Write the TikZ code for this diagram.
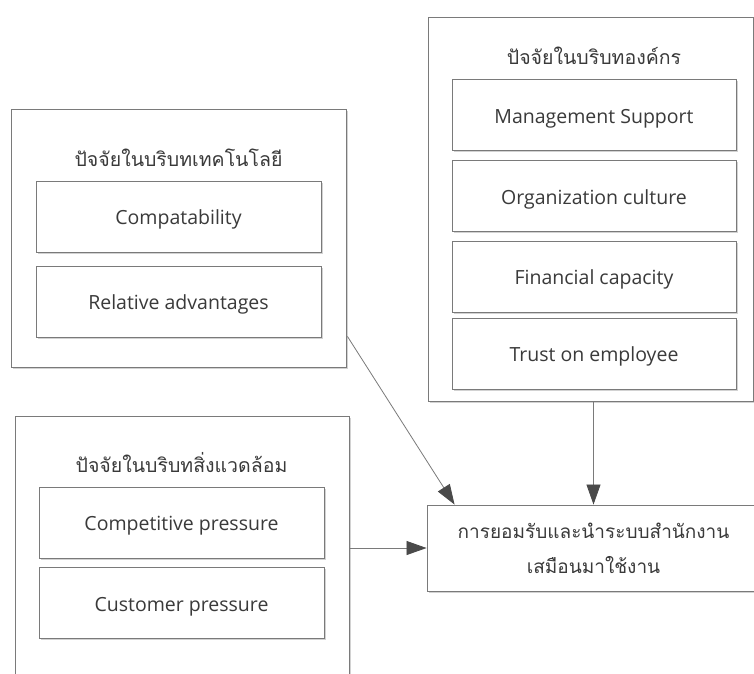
\documentclass[tikz,border=0pt]{standalone}
\usepackage{fontspec}
\setmainfont{Open Sans}
\newfontfamily\thai[Script=Thai]{Loma}
\usetikzlibrary{arrows.meta,shadows,calc}
\definecolor{edge}{HTML}{7A7A7A}
\definecolor{txt}{HTML}{3A3A3A}
\definecolor{arr}{HTML}{4A4A4A}
\tikzset{
  outerbox/.style={draw=edge, line width=0.9pt, fill=white, inner sep=0pt,
    drop shadow={shadow xshift=1.5pt, shadow yshift=-1.5pt, opacity=0.35, fill=gray}},
  itembox/.style={draw=edge, line width=0.9pt, fill=white, inner sep=0pt,
    minimum width=285pt, minimum height=71pt, text=txt, font=\fontsize{19.5}{22}\selectfont,
    text height=19pt, text depth=3pt,
    drop shadow={shadow xshift=1.5pt, shadow yshift=-1.5pt, opacity=0.35, fill=gray}},
  titletext/.style={text=txt, inner sep=0pt, font=\thai\fontsize{19.5}{22}\selectfont},
  conn/.style={draw=edge, line width=0.8pt, -{Triangle[length=20pt,width=14pt,fill=arr,color=arr]}}
}
\begin{document}
\begin{tikzpicture}[x=1pt,y=-1pt]
\useasboundingbox (0,0) rectangle (754,673);
\clip (0,0) rectangle (754,673);
\fill[white] (0,0) rectangle (754,673);
% technology
\node[outerbox, minimum width=335pt, minimum height=258pt] (tech) at (178.5,238) {};
\node[titletext] (techt) at (178.5,158) {ปัจจัยในบริบทเทคโนโลยี};
\node[itembox] (comp) at (178.5,216.5) {Compatability};
\node[itembox] (rel) at (178.5,301.5) {Relative advantages};
% organization
\node[outerbox, minimum width=325pt, minimum height=384pt] (org) at (590.5,209) {};
\node[titletext] (orgt) at (594,56) {ปัจจัยในบริบทองค์กร};
\node[itembox, minimum width=284pt] (ms) at (594,115) {Management Support};
\node[itembox, minimum width=284pt] (oc) at (594,196) {Organization culture};
\node[itembox, minimum width=284pt] (fc) at (594,276.5) {Financial capacity};
\node[itembox, minimum width=284pt] (te) at (594,353.5) {Trust on employee};
% environment
\node[outerbox, minimum width=334pt, minimum height=274pt] (env) at (182,553) {};
\node[titletext] (envt) at (181.5,463) {ปัจจัยในบริบทสิ่งแวดล้อม};
\node[itembox] (cp) at (181.5,522.5) {Competitive pressure};
\node[itembox] (cu) at (181.5,603) {Customer pressure};
% adoption
\node[outerbox, minimum width=333pt, minimum height=86pt, text=txt, align=center,
  font=\thai\fontsize{19}{35}\selectfont] (adopt) at (593.5,548)
  {การยอมรับและนำระบบสำนักงาน\\เสมือนมาใช้งาน};
% connectors
\coordinate (techout) at ($(tech.south east)+(1,-31)$);
\coordinate (adoptin) at ($(adopt.north west)+(28,0)$);
\coordinate (orgout) at ($(org.south)+(3,0)$);
\draw[conn] (techout) -- (adoptin);
\draw[conn] (orgout) -- (orgout |- adopt.north);
\draw[conn] (env.east |- adopt.west) -- (adopt.west);
\end{tikzpicture}
\end{document}
